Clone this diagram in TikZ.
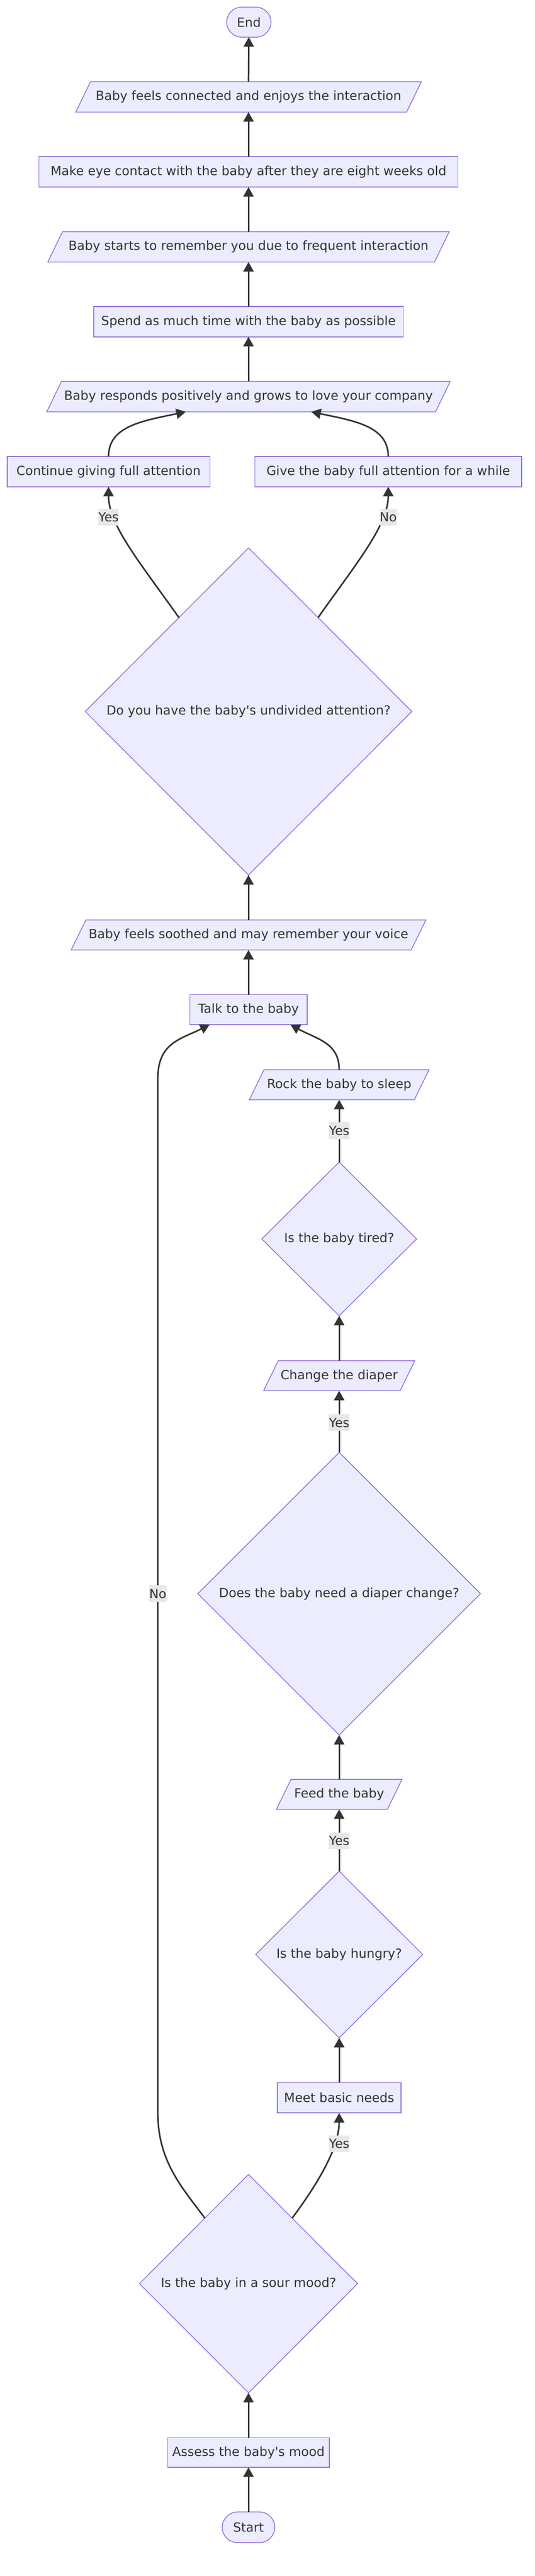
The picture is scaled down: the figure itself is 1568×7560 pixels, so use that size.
\documentclass[tikz,border=0pt]{standalone}
\usepackage{fontspec}
\setmainfont{DejaVu Sans}[Ligatures=TeXOff]
\usetikzlibrary{shapes.geometric,arrows.meta,backgrounds,calc}
\definecolor{nfill}{HTML}{ECECFF}
\definecolor{nline}{HTML}{9370DB}
\definecolor{ecol}{HTML}{333333}
\definecolor{lbg}{HTML}{E8E8E8}
\begin{document}
\begin{tikzpicture}[x=1pt,y=-1pt,
  every node/.style={font=\fontsize{37}{44}\selectfont, text=ecol, inner sep=0pt, outer sep=0pt},
  box/.style={rectangle, draw=nline, fill=nfill, line width=2.3pt, minimum height=89pt},
  para/.style={rectangle, minimum height=89pt},
  pshape/.style={draw=nline, fill=nfill, line width=2.3pt},
  term/.style={rectangle, rounded corners=44pt, draw=nline, fill=nfill, line width=2.3pt, minimum height=89pt},
  dec/.style={diamond, draw=nline, fill=nfill, line width=2.3pt},
  edge/.style={draw=ecol, line width=4.5pt, -{Triangle[length=28pt,width=30pt]}},
  elabel/.style={fill=lbg, minimum height=49pt}
]
\useasboundingbox (0,0) rectangle (1568,7560);

% nodes
\node[term, minimum width=130pt, minimum height=88pt] (End) at (730,65) {End};
\node[para, minimum width=970.5pt] (p1) at (729,284.5) {Baby feels connected and enjoys the interaction};
\node[box, minimum width=1229pt] (r1) at (729,504.5) {Make eye contact with the baby after they are eight weeks old};
\node[para, minimum width=1134.5pt] (p2) at (729,724.5) {Baby starts to remember you due to frequent interaction};
\node[box, minimum width=908pt] (r2) at (729,944) {Spend as much time with the baby as possible};
\node[para, minimum width=1140.5pt] (p3) at (729,1164) {Baby responds positively and grows to love your company};
\node[box, minimum width=595pt] (cont) at (318.5,1384) {Continue giving full attention};
\node[box, minimum width=782pt] (give) at (1139,1384) {Give the baby full attention for a while};
\node[dec, minimum width=958pt, minimum height=960pt] (d1) at (729,2088) {Do you have the baby's undivided attention?};
\node[para, minimum width=997.5pt, minimum height=88pt] (p4) at (729,2744) {Baby feels soothed and may remember your voice};
\node[box, minimum width=344pt, minimum height=88pt] (talk) at (729,2963) {Talk to the baby};
\node[para, minimum width=484pt, minimum height=88pt] (p5) at (995,3183.5) {Rock the baby to sleep};
\node[dec, minimum width=454pt, minimum height=451pt] (d2) at (995,3636) {Is the baby tired?};
\node[para, minimum width=400.5pt, minimum height=88pt] (p6) at (995,4037.5) {Change the diaper};
\node[dec, minimum width=829pt, minimum height=829pt] (d3) at (995,4677) {Does the baby need a diaper change?};
\node[para, minimum width=325.5pt, minimum height=88pt] (p7) at (995,5266) {Feed the baby};
\node[dec, minimum width=490pt, minimum height=489pt] (d4) at (995,5736) {Is the baby hungry?};
\node[box, minimum width=363pt] (meet) at (995,6156.5) {Meet basic needs};
\node[dec, minimum width=640pt, minimum height=641pt] (d5) at (729,6702) {Is the baby in a sour mood?};
\node[box, minimum width=474pt, minimum height=87pt] (assess) at (729,7197.5) {Assess the baby's mood};
\node[term, minimum width=154pt, minimum height=90pt, rounded corners=45pt] (start) at (729,7417) {Start};

% parallelogram outlines and background
\begin{scope}[on background layer]
  \fill[white] (0,0) rectangle (1568,7560);
  \foreach \pn in {p1,p2,p3,p4,p5,p6,p7}{
    \filldraw[pshape] ([xshift=-21.5pt]\pn.south west) -- ([xshift=21.5pt]\pn.north west)
      -- ([xshift=21.5pt]\pn.north east) -- ([xshift=-21.5pt]\pn.south east) -- cycle;
  }
\end{scope}

% helper coordinates on node borders
\coordinate (d1l) at ($(d1.north)!0.426!(d1.west)$);
\coordinate (d1r) at ($(d1.north)!0.426!(d1.east)$);
\coordinate (d5l) at ($(d5.north)!0.4!(d5.west)$);
\coordinate (d5r) at ($(d5.north)!0.4!(d5.east)$);
\coordinate (p3l) at ($(p3.south)+(-184,0)$);
\coordinate (p3r) at ($(p3.south)+(184,0)$);
\coordinate (talkl) at ($(talk.south)+(-114,0)$);
\coordinate (talkr) at ($(talk.south)+(123,0)$);
\coordinate (nobot) at (463,6200);
\coordinate (notop) at (463,3165);

% edges
\draw[edge] (start.north) -- (assess.south);
\draw[edge] (assess.north) -- (d5.south);
\draw[edge] (d5r) .. controls (920,6425) and (995,6310) .. (meet.south);
\draw[edge] (d5l) .. controls (530,6415) and (463,6340) .. (nobot) -- (notop)
  .. controls (463,3060) and (530,3050) .. (talkl);
\draw[edge] (meet.north) -- (d4.south);
\draw[edge] (d4.north) -- (p7.south);
\draw[edge] (p7.north) -- (d3.south);
\draw[edge] (d3.north) -- (p6.south);
\draw[edge] (p6.north) -- (d2.south);
\draw[edge] (d2.north) -- (p5.south);
\draw[edge] (p5.north) .. controls (995,3060) and (930,3050) .. (talkr);
\draw[edge] (talk.north) -- (p4.south);
\draw[edge] (p4.north) -- (d1.south);
\draw[edge] (d1l) .. controls (410,1650) and (318,1540) .. (cont.south);
\draw[edge] (d1r) .. controls (1048,1650) and (1139,1540) .. (give.south);
\draw[edge] (cont.north) .. controls (318,1250) and (420,1235) .. (p3l);
\draw[edge] (give.north) .. controls (1139,1250) and (1038,1235) .. (p3r);
\draw[edge] (p3.north) -- (r2.south);
\draw[edge] (r2.north) -- (p2.south);
\draw[edge] (p2.north) -- (r1.south);
\draw[edge] (r1.north) -- (p1.south);
\draw[edge] (p1.north) -- (End.south);

% edge labels
\node[elabel] (ly1) at (318.5,1518) {Yes};
\node[elabel] (ln1) at (1139,1518) {No};
\node[elabel] (ly2) at (995,3318) {Yes};
\node[elabel] (ly3) at (995,4175) {Yes};
\node[elabel] (ly4) at (995,5402) {Yes};
\node[elabel] (ly5) at (995,6291) {Yes};
\node[elabel] (ln2) at (463,4677) {No};
\end{tikzpicture}
\end{document}
